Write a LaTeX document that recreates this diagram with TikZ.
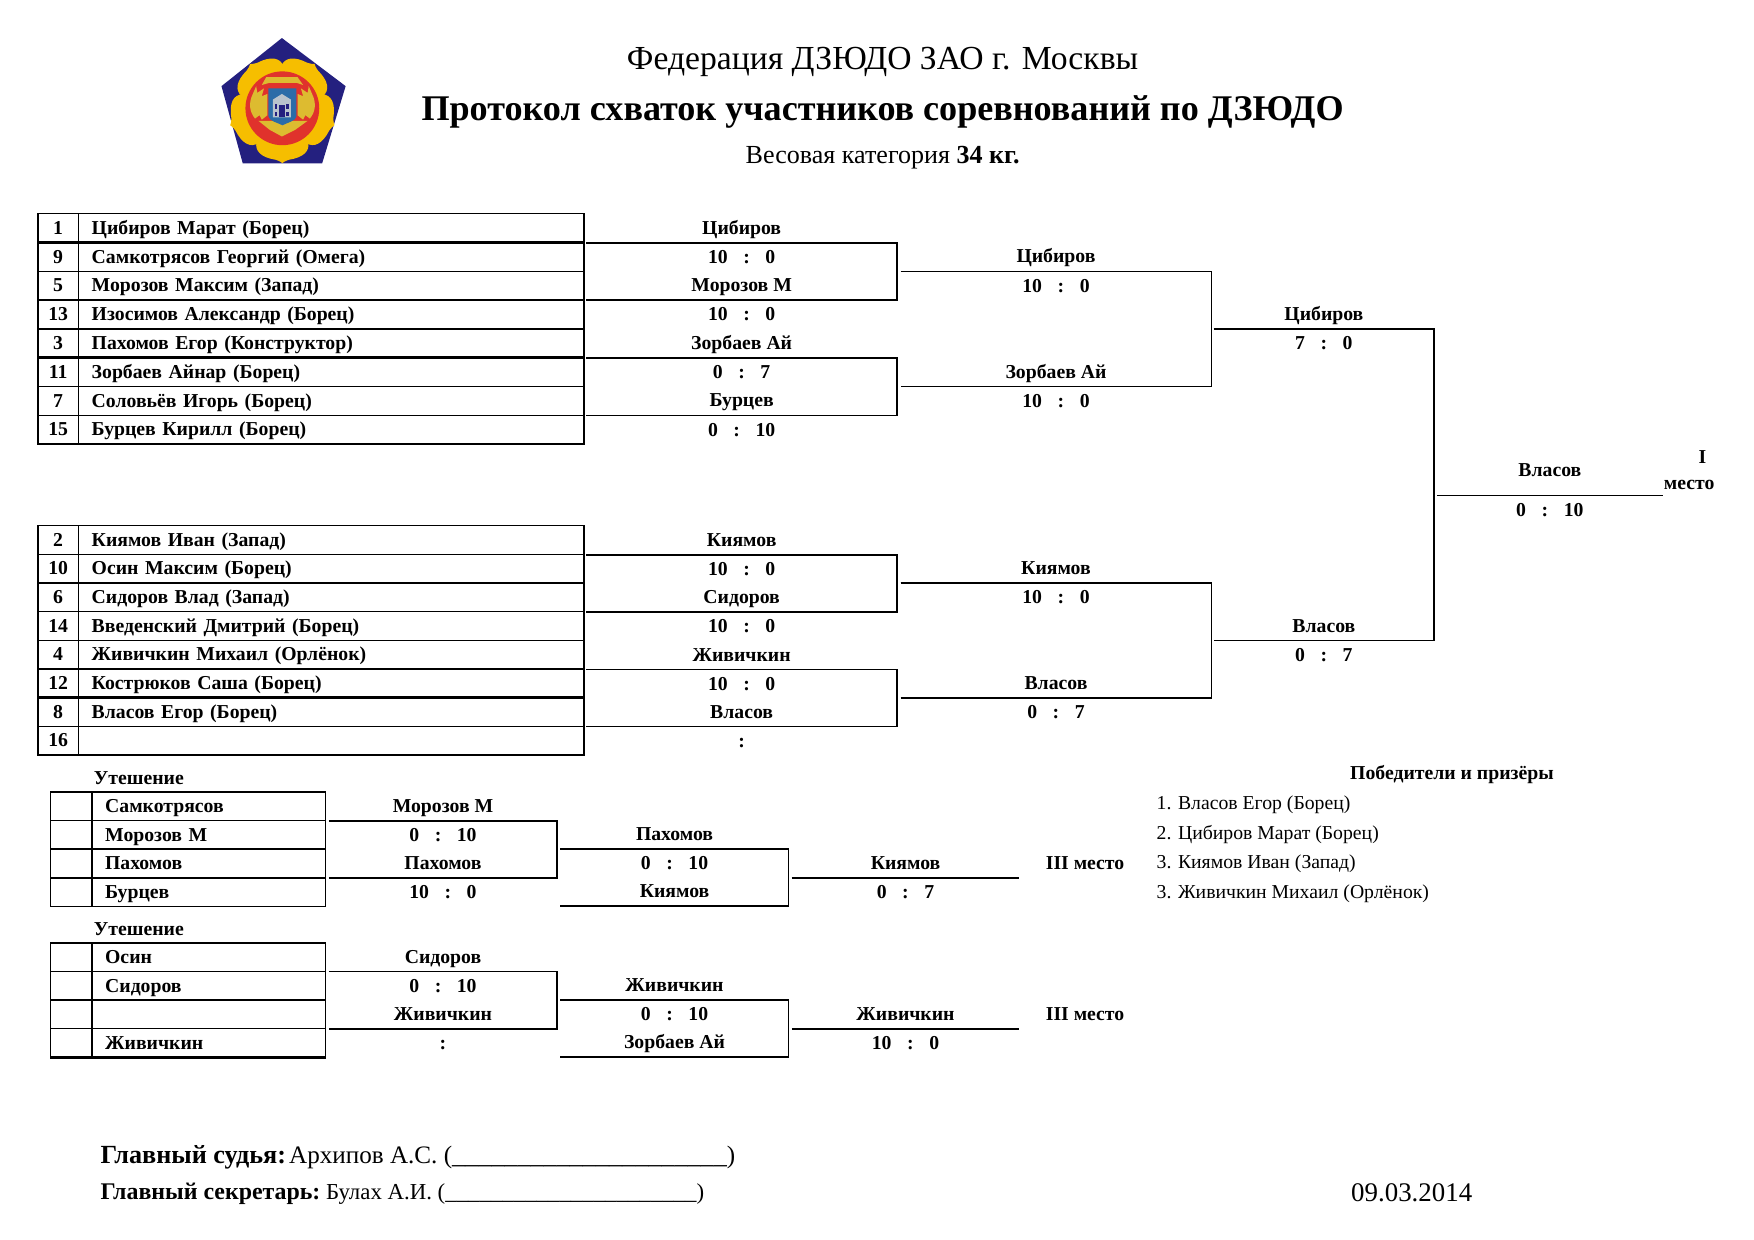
\documentclass[tikz,border=0pt]{standalone}
\usepackage{fontspec}
\setmainfont{Liberation Serif}
\usepackage{tikz}
\usetikzlibrary{positioning}
\definecolor{emblemnavy}{HTML}{24207F}
\definecolor{emblemgold}{HTML}{F6BE00}
\definecolor{emblemred}{HTML}{E0322C}
\definecolor{emblemblue}{HTML}{2B6CA8}
\definecolor{emblemochre}{HTML}{DDBB30}
\definecolor{emblemstone}{HTML}{B9C3CC}
\def\uu{0.01894cm}
\def\res#1#2{#1\hspace{7.5pt}:\hspace{7.5pt}#2}

\begin{document}
\begin{tikzpicture}[
    x=\uu, y=-\uu,
    every node/.style={inner sep=0pt, outer sep=0pt},
    cellfont/.style={font=\fontsize{9.5}{11}\selectfont\bfseries, text height=7.5pt, text depth=1.5pt},
    rownum/.style={draw, line width=0.65pt, cellfont, anchor=north west, align=center,
        minimum height=25.7*\uu},
    rowname/.style={draw, line width=0.65pt, cellfont, anchor=north west, align=left,
        minimum height=25.7*\uu, inner xsep=12*\uu},
    slot/.style={cellfont, anchor=south, minimum height=26*\uu},
    score/.style={cellfont, anchor=north, minimum height=26*\uu},
    bracket/.style={line width=0.65pt},
    boldline/.style={line width=1.15pt},
    plainlbl/.style={font=\fontsize{9.5}{11}\selectfont, anchor=west, text height=7.5pt, text depth=1.5pt}
]
    \useasboundingbox (0,0) rectangle (1568,1108);

    % --- emblem ---
    \fill[emblemnavy] (252,34) -- (309,77) -- (288,146) -- (217,146) -- (198,77) -- cycle;
    \foreach \a in {-90,-18,54,126,198} {
        \fill[emblemgold, shift={(252.4,96.8)}, rotate=\a]
            (0,0) -- (30,-23) .. controls (38,-25) and (44,-19) .. (46,-6) .. controls (47,-3) and (48,-1) .. (49,0)
            .. controls (48,1) and (47,3) .. (46,6) .. controls (44,19) and (38,25) .. (30,23) -- cycle;
    }
    \fill[emblemred] (252.4,96.8) circle [radius=33];
    \fill[emblemochre] (239,84) -- (234,86) -- (236,79) -- (230,83) -- (229,77) -- (226,84)
        .. controls (222,92) and (223,100) .. (228,106) -- (232,103) -- (234,107) -- (239,103) -- cycle;
    \fill[emblemochre] (266,84) -- (271,86) -- (269,79) -- (275,83) -- (276,77) -- (279,84)
        .. controls (283,92) and (282,100) .. (277,106) -- (273,103) -- (271,107) -- (266,103) -- cycle;
    \fill[emblemochre] (238,69) -- (266,69) -- (271,76) -- (265,74) -- (241,74) -- (234,76) -- cycle;
    \fill[emblemochre] (231,108) -- (241,116) -- (252,122) -- (264,116) -- (275,108) -- (265,108) -- (240,108) -- cycle;
    \fill[emblemblue] (240,79) -- (265,79) -- (265,104) .. controls (265,108) and (256,110) .. (252.5,112)
        .. controls (249,110) and (240,108) .. (240,104) -- cycle;
    \fill[emblemstone] (244,89) -- (252,84) -- (260,89) -- (260,105) -- (244,105) -- cycle;
    \fill[emblemnavy] (249.5,94) rectangle (254.5,105);
    \fill[emblemnavy] (245.5,93) rectangle (248,97);
    \fill[emblemnavy] (256,93) rectangle (258.5,97);
    \fill[emblemnavy] (245.5,100) rectangle (248,104);
    \fill[emblemnavy] (256,100) rectangle (258.5,104);

    % --- header ---
    \node[font=\fontsize{16.2}{19}\selectfont] (org) at (789,55) {Федерация ДЗЮДО ЗАО г. Москвы};
    \node[font=\fontsize{17.4}{20}\selectfont\bfseries] (title) at (789,100.5) {Протокол схваток участников соревнований по ДЗЮДО};
    \node[font=\fontsize{12.55}{14}\selectfont] (cat) at (789,141) {Весовая категория \textbf{34 кг.}};

    % --- draw tables ---
    \foreach \n/\nm [count=\i] in {1/Цибиров Марат (Борец), 9/Самкотрясов Георгий (Омега), 5/Морозов Максим (Запад),
        13/Изосимов Александр (Борец), 3/Пахомов Егор (Конструктор), 11/Зорбаев Айнар (Борец),
        7/Соловьёв Игорь (Борец), 15/Бурцев Кирилл (Борец)} {
        \pgfmathsetmacro{\y}{191+25.75*(\i-1)}
        \node[rownum, minimum width=36*\uu] (na\i) at (34,\y) {\n};
        \node[rowname, text width=428*\uu] (pa\i) at (70,\y) {\nm};
    }
    \foreach \n/\nm [count=\i] in {2/Киямов Иван (Запад), 10/Осин Максим (Борец), 6/Сидоров Влад (Запад),
        14/Введенский Дмитрий (Борец), 4/Живичкин Михаил (Орлёнок), 12/Кострюков Саша (Борец),
        8/Власов Егор (Борец), 16/{}} {
        \pgfmathsetmacro{\y}{470+25.6*(\i-1)}
        \node[rownum, minimum width=36*\uu] (nb\i) at (34,\y) {\n};
        \node[rowname, text width=428*\uu] (pb\i) at (70,\y) {\nm};
    }

    % --- consolation tables ---
    \node[cellfont, anchor=west] (consa) at (84,696) {Утешение};
    \foreach \nm [count=\i] in {Самкотрясов, Морозов М, Пахомов, Бурцев} {
        \pgfmathsetmacro{\y}{708+25.5*(\i-1)}
        \node[rownum, minimum width=37*\uu] (nc\i) at (45,\y) {};
        \node[rowname, text width=185*\uu] (pc\i) at (82,\y) {\nm};
    }
    \node[cellfont, anchor=west] (consb) at (84,831) {Утешение};
    \foreach \nm [count=\i] in {Осин, Сидоров, {}, Живичкин} {
        \pgfmathsetmacro{\y}{843+25.5*(\i-1)}
        \node[rownum, minimum width=37*\uu] (nd\i) at (45,\y) {};
        \node[rowname, text width=185*\uu] (pd\i) at (82,\y) {\nm};
    }
    \foreach \p/\q in {na1/pa1, na5/pa5, nb2/pb2, nb6/pb6, nc3/pc3, nd4/pd4} {
        \draw[boldline] (\p.south west) -- (\q.south east);
    }
    \foreach \p in {pc1, pc2, pc3, pc4, pd1, pd2, pd3, pd4} {
        \draw[line width=0.9pt] (\p.north west) -- (\p.south west);
    }

    % --- winners and scores ---
    \foreach \s/\cx/\ly/\len/\nm/\rs in {
        wa1/663/217/278/Цибиров/{\res{10}{0}}, wa2/663/268.2/278/Морозов М/{\res{10}{0}},
        wa3/663/320/278/Зорбаев Ай/{\res{0}{7}}, wa4/663/371.2/278/Бурцев/{\res{0}{10}},
        qa1/944/242.5/278/Цибиров/{\res{10}{0}}, qa2/944/345.5/278/Зорбаев Ай/{\res{10}{0}},
        sa1/1183.5/294/197/Цибиров/{\res{7}{0}},
        wb1/663/496/278/Киямов/{\res{10}{0}}, wb2/663/547/278/Сидоров/{\res{10}{0}},
        wb3/663/598.5/278/Живичкин/{\res{10}{0}}, wb4/663/649.5/278/Власов/{:},
        qb1/944/521/278/Киямов/{\res{10}{0}}, qb2/944/624/278/Власов/{\res{0}{7}},
        sb1/1183.5/572.5/197/Власов/{\res{0}{7}},
        wc1/396/734/204/Морозов М/{\res{0}{10}}, wc2/396/785/204/Пахомов/{\res{10}{0}},
        qc1/603/759/204/Пахомов/{\res{0}{10}}, qc2/603/810/204/Киямов/{},
        fc/809.5/785/203/Киямов/{\res{0}{7}},
        wd1/396/868.5/204/Сидоров/{\res{0}{10}}, wd2/396/920/204/Живичкин/{:},
        qd1/603/894/204/Живичкин/{\res{0}{10}}, qd2/603/945/204/Зорбаев Ай/{},
        fd/809.5/920/203/Живичкин/{\res{10}{0}}} {
        \node[slot, minimum width=\len*\uu] (\s) at (\cx,\ly) {\nm};
        \node[score] (\s r) at (\s.south) {\rs};
    }
    \node[slot, minimum width=202*\uu, minimum height=46*\uu] (fin) at (1385.5,443) {Власов};
    \node[score] (finr) at (fin.south) {\res{0}{10}};

    % --- brackets ---
    \foreach \p/\q in {wa1/wa2, wa3/wa4, qa1/qa2, sa1/sb1, wb1/wb2, wb3/wb4, qb1/qb2,
        wc1/wc2, qc1/qc2, wd1/wd2, qd1/qd2} {
        \draw[bracket] (\p.south west) -- (\p.south east) -- (\q.south east) -- (\q.south west);
    }
    \foreach \p in {fin, fc, fd} {
        \draw[bracket] (\p.south west) -- (\p.south east);
    }
    \foreach \p in {wa1, wa3, qb1, qb2, wc2, fc, qd2} {
        \draw[boldline] (\p.south west) -- (\p.south east);
    }

    % --- places ---
    \node[cellfont] (placeone) at (1522,409) {I};
    \node[cellfont] (placeonew) at (1510,432) {место};
    \node[cellfont] (placeca) at (970,771.5) {III место};
    \node[cellfont] (placecb) at (970,906.5) {III место};

    % --- prize list ---
    \node[cellfont] (prizes) at (1298,691) {Победители и призёры};
    \node[plainlbl] (prizea) at (1034,718) {1. Власов Егор (Борец)};
    \node[plainlbl] (prizeb) at (1034,745) {2. Цибиров Марат (Борец)};
    \node[plainlbl] (prizec) at (1034,771) {3. Киямов Иван (Запад)};
    \node[plainlbl] (prized) at (1034,798) {3. Живичкин Михаил (Орлёнок)};

    % --- signatures ---
    \node[anchor=west, font=\fontsize{12.1}{14}\selectfont] (judge) at (90,1035)
        {\textbf{\fontsize{12.6}{14}\selectfont Главный судья:} \kern-2.5pt Архипов А.С. ({\fontsize{12.6}{14}\selectfont\_\_\_\_\_\_\_\_\_\_\_\_\_\_\_\_\_\_\_\_\_})};
    \node[anchor=west, font=\fontsize{11}{13}\selectfont] (secr) at (90,1067)
        {\textbf{\fontsize{11.5}{13}\selectfont Главный секретарь:} \kern-1pt Булах А.И. (\_\_\_\_\_\_\_\_\_\_\_\_\_\_\_\_\_\_\_\_\_\_)};
    \node[font=\fontsize{12.95}{15}\selectfont] (date) at (1262,1066) {09.03.2014};
\end{tikzpicture}
\end{document}
